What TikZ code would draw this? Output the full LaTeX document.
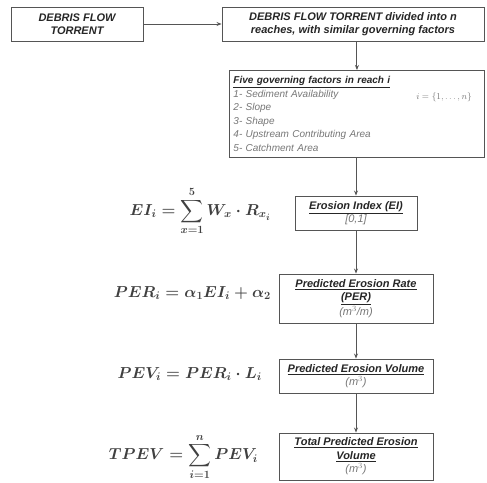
\documentclass[tikz,border=0pt]{standalone}
\usepackage[no-math]{fontspec}
\setmainfont{Liberation Sans}
\usepackage{amsmath}
\usetikzlibrary{arrows.meta}
\definecolor{frame}{HTML}{555555}
\definecolor{soft}{HTML}{777777}
\tikzset{
  box/.style={draw=frame, line width=0.9pt, fill=white, align=center, inner sep=2pt,
    font=\fontsize{11}{13.5}\selectfont\bfseries\itshape, text=black!85},
  conn/.style={draw=frame, line width=1pt, -{Stealth[length=5pt,width=4pt]}},
  eq/.style={font=\fontsize{17.28}{20}\selectfont\boldmath, text=black!75, inner sep=0pt,
    scale=0.92, transform shape}
}
\newcommand{\unit}[1]{{\mdseries\color{soft}#1}}
\begin{document}
\begin{tikzpicture}[x=1pt,y=-1pt]
\useasboundingbox (0,0) rectangle (487,482);
\node[box, minimum width=132pt, minimum height=34pt] (b1) at (77,24) {DEBRIS FLOW\\TORRENT};
\node[box, minimum width=262pt, minimum height=34pt] (b2) at (353,24) {DEBRIS FLOW TORRENT divided into n\\reaches, with similar governing factors};
\node[box, minimum width=255pt, minimum height=87pt, text width=247pt, align=left, anchor=north west,
  font=\fontsize{10}{13.5}\selectfont\itshape] (b3) at (229,70)
  {\textbf{\underline{Five governing factors in reach i}}\\
   \color{soft}1- Sediment Availability\\
   2- Slope\\
   3- Shape\\
   4- Upstream Contributing Area\\
   5- Catchment Area};
\node[font=\fontsize{9}{11}\selectfont, text=soft, inner sep=0pt] (range) at (444,97) {$i=\{1,\dots,n\}$};
\node[box, minimum width=122pt, minimum height=34pt] (ei) at (356,213)
  {\underline{Erosion Index (EI)}\\\unit{[0,1]}};
\node[box, minimum width=154pt, minimum height=49pt] (per) at (356,298.5)
  {\underline{Predicted Erosion Rate}\\\underline{(PER)}\\\unit{(m$^3$/m)}};
\node[box, minimum width=154pt, minimum height=34pt] (pev) at (356,376)
  {\underline{Predicted Erosion Volume}\\\unit{(m$^3$)}};
\node[box, minimum width=154pt, minimum height=47pt] (tpev) at (356,456.5)
  {\underline{Total Predicted Erosion}\\\underline{Volume}\\\unit{(m$^3$)}};

\draw[conn] (b1.east) -- (b2.west);
\draw[conn] (b2.south -| b3.north) -- (b3.north);
\draw[conn] (b3.south -| ei.north) -- (ei.north);
\draw[conn] (ei.south) -- (per.north);
\draw[conn] (per.south) -- (pev.north);
\draw[conn] (pev.south) -- (tpev.north);

\node[eq, anchor=east] (eqei) at (271,211) {$EI_i=\displaystyle\sum_{x=1}^{5} W_x\cdot R_{x_i}$};
\node[eq, anchor=east] (eqper) at (271,293) {$PER_i=\alpha_1 EI_i+\alpha_2$};
\node[eq, anchor=east] (eqpev) at (262,374) {$PEV_i=PER_i\cdot L_i$};
\node[eq, anchor=east] (eqtpev) at (258,457) {$TPEV=\displaystyle\sum_{i=1}^{n} PEV_i$};
\end{tikzpicture}
\end{document}
